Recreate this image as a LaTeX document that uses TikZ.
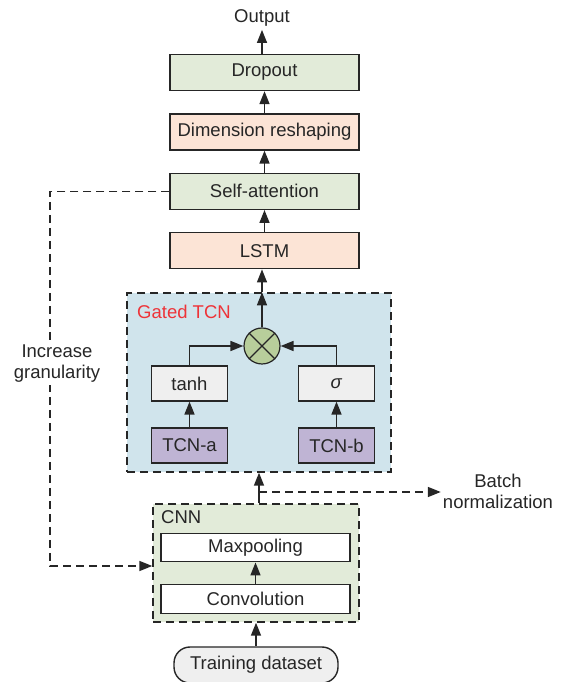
\documentclass[tikz,border=0pt]{standalone}
\usepackage{fontspec}
\setmainfont{Liberation Sans}
\usetikzlibrary{arrows.meta,positioning}
\definecolor{ink}{HTML}{262626}
\definecolor{leaf}{HTML}{E2EBD9}
\definecolor{peach}{HTML}{FCE4D6}
\definecolor{sky}{HTML}{D0E4EC}
\definecolor{lilac}{HTML}{BFB4D4}
\definecolor{moss}{HTML}{B8CE9B}
\definecolor{mist}{HTML}{EFEFEF}
\definecolor{gatered}{HTML}{EE3338}

\begin{document}
\begin{tikzpicture}[x=1pt,y=1pt,node distance=22pt,
 arr/.style={-{Triangle[length=13pt,width=10pt]},draw=ink,line width=1.5pt},
 dashline/.style={dash pattern=on 8pt off 5pt},
 every node/.style={font=\fontsize{18.5}{21}\selectfont,text=ink},
 layer/.style={draw=ink,line width=1.4pt,minimum width=189pt,minimum height=36pt,inner sep=0pt},
 gbox/.style={layer,fill=leaf},
 obox/.style={layer,fill=peach},
 small/.style={draw=ink,line width=1.2pt,minimum width=76pt,minimum height=35pt,inner sep=0pt},
 wbox/.style={draw=ink,line width=1.4pt,fill=white,minimum width=189pt,minimum height=28.5pt,inner sep=0pt},
 group/.style={draw=ink,line width=1.4pt,dashline}]
\useasboundingbox (0,0) rectangle (564,682);
% top stack
\node[gbox] (drop) at (264.5,609.5) {Dropout};
\node[obox,below=of drop] (reshape) {Dimension reshaping};
\node[gbox,below=of reshape] (selfatt) {Self-attention};
\node[obox,below=of selfatt] (lstm) {LSTM};
\node (out) at (262,664) {Output};
% gated TCN
\node[group,fill=sky,minimum width=264pt,minimum height=179pt] (gated) at (259,299.5) {};
\node[anchor=west,inner sep=0pt,text=gatered] (gtitle) at (137,370) {Gated TCN};
\node[circle,draw=ink,line width=1.2pt,fill=moss,minimum size=36pt,inner sep=0pt] (mult) at (262,336) {};
\draw[ink,line width=1.2pt] (mult.north west) -- (mult.south east) (mult.north east) -- (mult.south west);
\node[small,fill=mist] (tanh) at (189.5,298.5) {tanh};
\node[small,fill=mist] (sig) at (336.5,298.5) {\textit{σ}};
\node[small,fill=lilac] (tcna) at (189.5,236.5) {TCN-a};
\node[small,fill=lilac] (tcnb) at (336.5,236.5) {TCN-b};
% CNN
\node[group,fill=leaf,minimum width=206pt,minimum height=118pt] (cnn) at (256,119) {};
\node[anchor=west,inner sep=0pt] (ctitle) at (161,165) {CNN};
\node[wbox] (maxpool) at (255.5,134.5) {Maxpooling};
\node[wbox] (conv) at (255.5,83) {Convolution};
\node[draw=ink,line width=1.4pt,fill=mist,rounded corners=16pt,minimum width=164pt,minimum height=36pt] (train) at (256,17) {Training dataset};
% side labels
\node[align=center,inner sep=2pt] (bn) at (498,191) {Batch\\normalization};
\coordinate (br) at (259,190);
\coordinate (bend) at (50,116);
% connectors
\draw[arr] (out.south |- drop.north) -- (out.south);
\draw[arr] (reshape.north) -- (drop.south);
\draw[arr] (selfatt.north) -- (reshape.south);
\draw[arr] (lstm.north) -- (selfatt.south);
\draw[arr] (mult.north |- gated.north) -- (mult.north |- lstm.south);
\draw[arr] (mult.north) -- (mult.north |- gated.north);
\draw[arr] (tanh.north) |- (mult.west);
\draw[arr] (sig.north) |- (mult.east);
\draw[arr] (tcna) -- (tanh);
\draw[arr] (tcnb) -- (sig);
\draw[arr] (gated.south |- cnn.north) -- (gated.south);
\draw[arr,dashline] (br) -- (br -| bn.west);
\draw[arr] (conv) -- (maxpool);
\draw[arr] (train) -- (cnn.south);
\draw[arr,dashline] (selfatt.west) -| (bend) -- (cnn.west |- bend);
\node[align=center,fill=white,inner sep=2pt] (gran) at (57,318) {Increase\\granularity};
\end{tikzpicture}
\end{document}
